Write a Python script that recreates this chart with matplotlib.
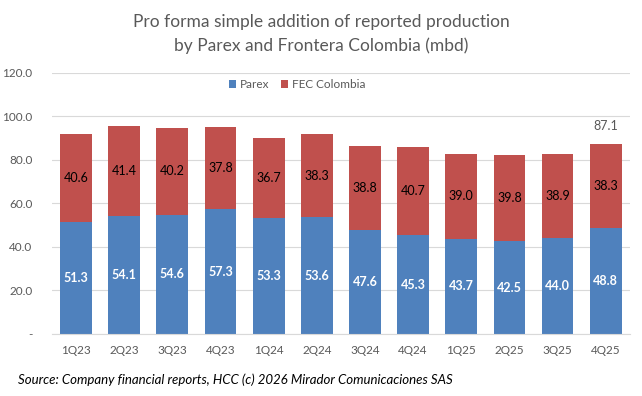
import matplotlib.pyplot as plt
import numpy as np

# --- Data ---
quarters = ["1Q23", "2Q23", "3Q23", "4Q23", "1Q24", "2Q24",
            "3Q24", "4Q24", "1Q25", "2Q25", "3Q25", "4Q25"]
parex = [51.3, 54.1, 54.6, 57.3, 53.3, 53.6, 47.6, 45.3, 43.7, 42.5, 44.0, 48.8]
fec_colombia = [40.6, 41.4, 40.2, 37.8, 36.7, 38.3, 38.8, 40.7, 39.0, 39.8, 38.9, 38.3]
total_label = "87.1"

BLUE = "#4F81BD"
RED = "#C0504D"
GREY = "#595959"

plt.rcParams["font.family"] = ["Lato", "DejaVu Sans"]

fig = plt.figure(figsize=(6.42, 3.96), dpi=100)
ax = fig.add_axes([0.081, 0.157, 0.900, 0.659])

x = np.arange(len(quarters))
b1 = ax.bar(x, parex, width=0.66, color=BLUE, label="Parex", zorder=2)
b2 = ax.bar(x, fec_colombia, width=0.66, bottom=parex, color=RED,
            label="FEC Colombia", zorder=2)

# --- Labels inside bars ---
for i in range(len(quarters)):
    ax.text(x[i], parex[i] / 2, f"{parex[i]:.1f}", ha="center", va="center",
            color="white", fontsize=9, fontweight="bold")
    ax.text(x[i], parex[i] + fec_colombia[i] / 2, f"{fec_colombia[i]:.1f}",
            ha="center", va="center", color="black", fontsize=9)

last = len(quarters) - 1
ax.annotate(total_label, (x[last], parex[last] + fec_colombia[last]),
            xytext=(0, 13), textcoords="offset points", ha="center",
            va="center", color=GREY, fontsize=9)

# --- Axes ---
ax.set_xlim(-0.5, len(quarters) - 0.5)
ax.set_ylim(0, 120)
ax.set_yticks(np.arange(0, 121, 20))
ax.set_yticklabels(["-"] + [f"{v:.1f}" for v in np.arange(20, 121, 20)])
ax.set_xticks(x)
ax.set_xticklabels(quarters)
ax.tick_params(axis="both", length=0, labelsize=8.5, colors=GREY)
ax.tick_params(axis="x", pad=8)
ax.tick_params(axis="y", pad=14)
ax.grid(axis="y", color="#D9D9D9", linewidth=0.8, zorder=0)
for side in ["top", "right", "left"]:
    ax.spines[side].set_visible(False)
ax.spines["bottom"].set_color("#D9D9D9")

ax.legend(loc="center", bbox_to_anchor=(0.424, 0.954), ncol=2, frameon=False,
          fontsize=8.5, handlelength=0.6, handleheight=0.6, handletextpad=0.3,
          columnspacing=1.0, labelcolor=GREY)

fig.text(0.5, 0.945, "Pro forma simple addition of reported production",
         ha="center", va="center", fontsize=12.5, color=GREY)
fig.text(0.5, 0.885, "by Parex and Frontera Colombia (mbd)",
         ha="center", va="center", fontsize=12.5, color=GREY)
fig.text(0.028, 0.04, "Source: Company financial reports, HCC (c) 2026 Mirador Comunicaciones SAS",
         ha="left", va="center", fontsize=9.5, style="italic", color="black")

fig.savefig("out.png", dpi=100)
